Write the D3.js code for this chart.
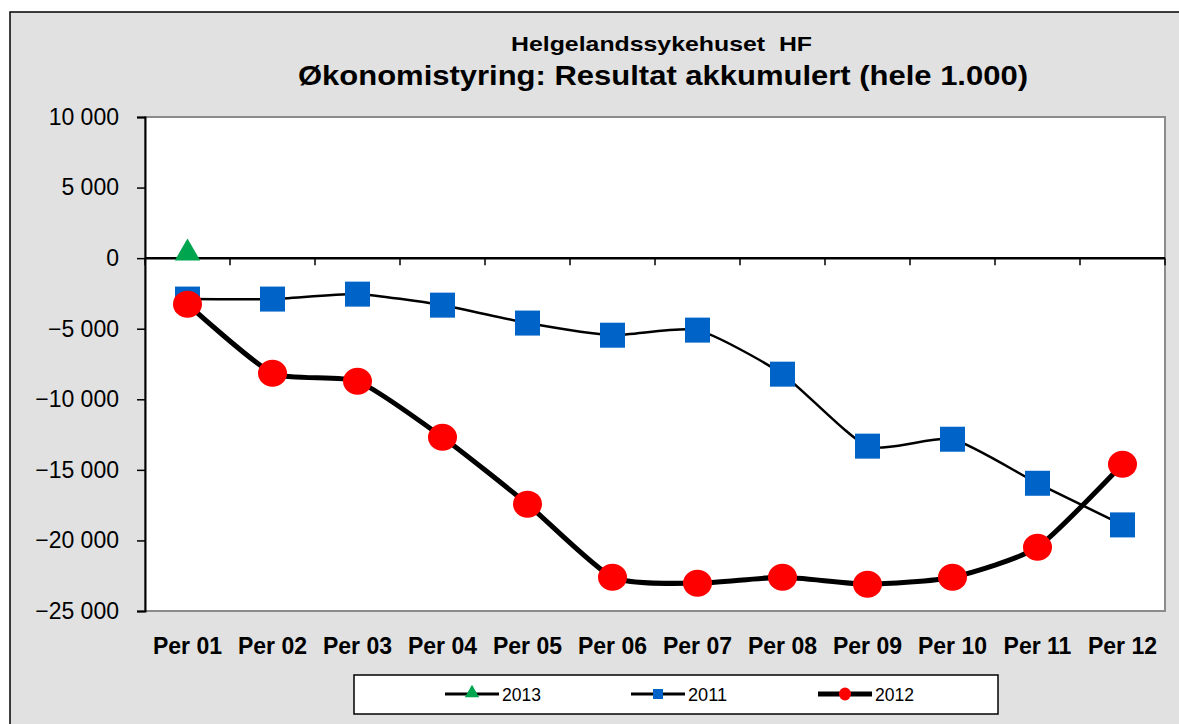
<!DOCTYPE html>
<html><head><meta charset="utf-8">
<script src="https://cdn.jsdelivr.net/npm/d3@7"></script>
<style>html,body{margin:0;padding:0;background:#fff;}svg{display:block;font-family:"Liberation Sans",Arial,sans-serif;}</style>
</head><body>
<script>
const categories = ["Per 01","Per 02","Per 03","Per 04","Per 05","Per 06","Per 07","Per 08","Per 09","Per 10","Per 11","Per 12"];
const values2013 = [500];
const values2011 = [-2900,-2900,-2550,-3330,-4600,-5460,-5100,-8220,-13320,-12830,-15950,-18900];
const values2012 = [-3260,-8150,-8720,-12690,-17430,-22610,-23030,-22610,-23100,-22610,-20480,-14600];
const yTicks = [10000,5000,0,-5000,-10000,-15000,-20000,-25000];
const legendLabels = ["2013","2011","2012"];

const W = 1179, H = 724;
const svg = d3.select("body").append("svg").attr("width", W).attr("height", H);

// outer chart area
svg.append("rect").attr("x",10).attr("y",12).attr("width",W).attr("height",H)
  .attr("fill","#e1e1e1").attr("stroke","#000").attr("stroke-width",1.5);

const L = 145, R = 1165, T = 117, B = 611;
const x = d3.scaleBand().domain(categories).range([L,R]);
const y = d3.scaleLinear().domain([-25000,10000]).range([B,T]);

svg.append("rect").attr("x",L).attr("y",T).attr("width",R-L).attr("height",B-T)
  .attr("fill","#fff").attr("stroke","#8c8c8c").attr("stroke-width",2);

// titles
svg.append("text").attr("x",511).attr("y",51)
  .attr("font-size",21).attr("font-weight","bold")
  .attr("textLength",301).attr("lengthAdjust","spacingAndGlyphs")
  .style("white-space","pre").text("Helgelandssykehuset  HF");
svg.append("text").attr("x",298).attr("y",85)
  .attr("font-size",28).attr("font-weight","bold")
  .attr("textLength",730).attr("lengthAdjust","spacingAndGlyphs")
  .text("Økonomistyring: Resultat akkumulert (hele 1.000)");

// y axis
const yAxis = d3.axisLeft(y).tickValues(yTicks).tickSize(8).tickPadding(18)
  .tickFormat(d => d3.format(",")(d).replace(/,/g," "));
const gy = svg.append("g").attr("transform",`translate(${L},0)`).call(yAxis);
gy.select(".domain").attr("stroke","#000").attr("stroke-width",2);
gy.selectAll(".tick line").attr("stroke","#000").attr("stroke-width",1.5);
gy.selectAll("text").attr("font-size",23).attr("fill","#000").attr("font-family","Liberation Sans, Arial, sans-serif");

// zero axis line with category boundary ticks
const gx = svg.append("g").attr("transform",`translate(0,${y(0)})`);
gx.append("line").attr("x1",L).attr("x2",R).attr("stroke","#000").attr("stroke-width",2.5);
gx.selectAll("line.tk").data(d3.range(categories.length+1)).enter().append("line")
  .attr("class","tk").attr("x1",i=>L+i*x.step()).attr("x2",i=>L+i*x.step())
  .attr("y1",0).attr("y2",7).attr("stroke","#000").attr("stroke-width",1.5);

// x labels
svg.append("g").selectAll("text").data(categories).enter().append("text")
  .attr("x",d=>x(d)+x.bandwidth()/2).attr("y",654).attr("text-anchor","middle")
  .attr("font-size",23).attr("font-weight","bold").text(d=>d);

const cx = i => x(categories[i]) + x.bandwidth()/2;
const line = d3.line().x((d,i)=>cx(i)).y(d=>y(d)).curve(d3.curveCardinal.tension(0.4));

// 2011
svg.append("path").datum(values2011).attr("d",line).attr("fill","none")
  .attr("stroke","#000").attr("stroke-width",2.5);
// 2012
svg.append("path").datum(values2012).attr("d",line).attr("fill","none")
  .attr("stroke","#000").attr("stroke-width",5);

// markers 2011
svg.append("g").selectAll("rect").data(values2011).enter().append("rect")
  .attr("x",(d,i)=>cx(i)-12.5).attr("y",d=>y(d)-12.5).attr("width",25).attr("height",25)
  .attr("fill","#0063c8");
// markers 2012
svg.append("g").selectAll("ellipse").data(values2012).enter().append("ellipse")
  .attr("cx",(d,i)=>cx(i)).attr("cy",d=>y(d)).attr("rx",14.5).attr("ry",13.5)
  .attr("fill","#ff0000");
// markers 2013
const tri = d3.symbol().type(d3.symbolTriangle).size(280);
svg.append("g").selectAll("path").data(values2013).enter().append("path")
  .attr("d",tri).attr("transform",(d,i)=>`translate(${cx(i)},${y(d)+2})`)
  .attr("fill","#00a550");

// legend
svg.append("rect").attr("x",354).attr("y",675).attr("width",644).attr("height",39)
  .attr("fill","#fff").attr("stroke","#000").attr("stroke-width",1.5);
const legX = [445,631,818];
const ly = 694;
legendLabels.forEach((lab,i)=>{
  const g = svg.append("g");
  g.append("line").attr("x1",legX[i]).attr("x2",legX[i]+54).attr("y1",ly).attr("y2",ly)
    .attr("stroke","#000").attr("stroke-width", i===2 ? 5 : 3);
  const mx = legX[i]+27;
  if(i===0){
    g.append("path").attr("d",d3.symbol().type(d3.symbolTriangle).size(90))
      .attr("transform",`translate(${mx},${ly-1})`).attr("fill","#00a550");
  } else if(i===1){
    g.append("rect").attr("x",mx-5).attr("y",ly-5).attr("width",10).attr("height",10).attr("fill","#0063c8");
  } else {
    g.append("ellipse").attr("cx",mx).attr("cy",ly).attr("rx",6).attr("ry",6.5).attr("fill","#ff0000");
  }
  g.append("text").attr("x",legX[i]+57).attr("y",ly+7).attr("font-size",19)
    .attr("textLength",39).attr("lengthAdjust","spacingAndGlyphs").text(lab);
});
</script>
</body></html>
